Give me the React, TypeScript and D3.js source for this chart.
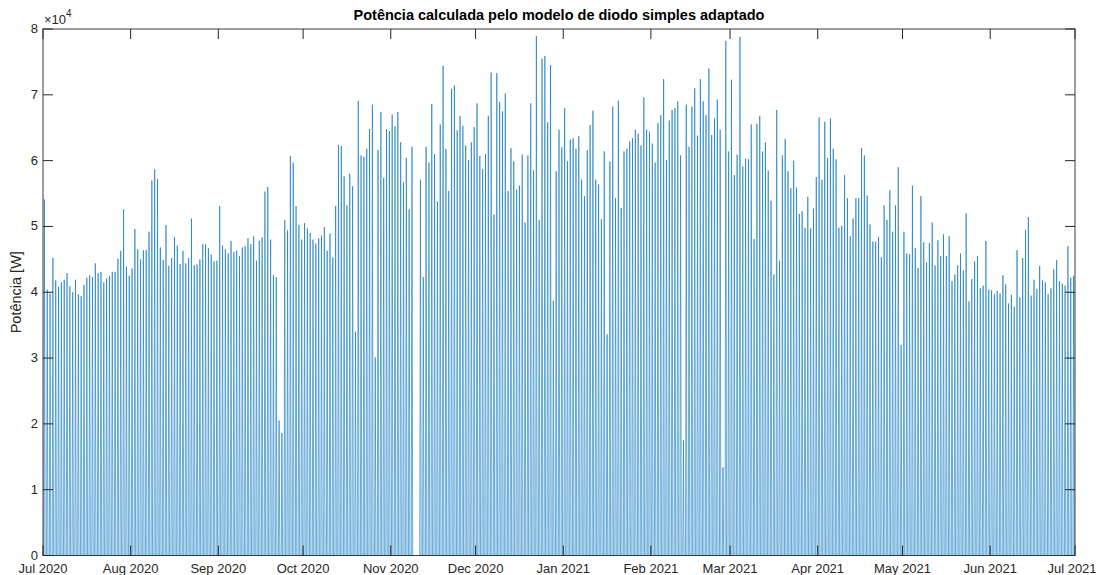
import React from "react";
import * as d3 from "d3";

// Daily peak power, in units of 10^4 W
const jul2020 = [5.41, 4.04, 3.98, 4.52, 4.18, 4.08, 4.15, 4.19, 4.29, 4.09, 4.0, 4.19, 3.97, 3.94, 4.11, 4.22, 4.26, 4.23, 4.44, 4.29, 4.31, 4.15, 4.21, 4.25, 4.31, 4.31, 4.51, 4.63, 5.26, 4.39, 4.25];
const aug2020 = [4.36, 4.96, 4.65, 4.5, 4.64, 4.64, 4.92, 5.7, 5.87, 5.72, 4.68, 4.49, 5.02, 4.4, 4.52, 4.84, 4.71, 4.43, 4.63, 4.44, 4.52, 5.12, 4.41, 4.42, 4.5, 4.73, 4.73, 4.67, 4.57, 4.47, 4.48];
const sep2020 = [5.31, 4.71, 4.65, 4.59, 4.78, 4.61, 4.63, 4.55, 4.68, 4.7, 4.82, 4.73, 4.85, 4.48, 4.78, 4.83, 5.53, 5.6, 4.8, 4.26, 4.23, 2.05, 1.86, 5.1, 4.94, 6.07, 5.97, 5.31, 5.02, 4.8];
const oct2020 = [5.05, 4.97, 4.9, 4.8, 4.74, 4.82, 4.86, 4.99, 4.63, 4.89, 4.53, 5.31, 6.24, 6.22, 5.76, 5.32, 5.8, 5.61, 3.4, 6.91, 6.08, 6.06, 6.18, 6.48, 6.85, 3.01, 6.16, 6.74, 5.74, 6.48, 6.45];
const nov2020 = [6.7, 6.52, 6.74, 6.28, 5.67, 6.04, 5.26, 6.21, null, null, 5.71, 4.23, 6.21, 5.97, 6.86, 6.1, 5.38, 6.55, 7.44, 6.18, 5.54, 7.09, 7.14, 6.46, 6.68, 6.53, 6.23, 6.01, 6.28, 6.51];
const dec2020 = [6.87, 6.07, 5.87, 6.1, 6.68, 7.34, 5.18, 7.33, 6.89, 6.75, 7.02, 5.54, 6.19, 5.99, 5.56, 5.62, 6.09, 5.06, 6.08, 6.87, 5.85, 7.89, 5.1, 7.55, 7.59, 6.58, 7.45, 3.87, 5.84, 6.47, 6.2];
const jan2021 = [6.8, 5.99, 6.32, 6.34, 6.18, 6.37, 5.71, 5.46, 6.16, 6.54, 6.76, 5.71, 5.64, 5.11, 6.14, 3.36, 5.99, 6.82, 5.43, 6.91, 5.28, 6.14, 6.18, 6.29, 6.34, 6.47, 6.41, 6.23, 6.96, 6.47, 6.44];
const feb2021 = [6.26, 5.97, 6.57, 6.69, 7.24, 6.01, 6.61, 6.77, 6.8, 6.9, 6.08, 1.75, 6.85, 6.21, 6.82, 7.1, 6.38, 7.24, 6.9, 6.69, 7.4, 6.39, 6.64, 6.93, 6.47, 1.34, 7.82, 6.14];
const mar2021 = [7.23, 5.78, 6.09, 7.88, 5.91, 6.03, 6.02, 6.55, 4.81, 6.56, 6.68, 6.14, 6.28, 5.85, 5.39, 4.27, 6.77, 4.48, 6.08, 6.33, 5.84, 5.58, 6.0, 5.59, 5.19, 5.23, 4.98, 5.45, 4.97, 5.27, 5.75];
const apr2021 = [6.66, 5.71, 6.59, 6.04, 6.64, 6.18, 6.02, 4.98, 5.01, 5.78, 5.43, 4.85, 5.12, 5.43, 5.43, 6.19, 6.08, 5.47, 5.03, 4.77, 4.77, 4.84, 4.53, 5.32, 5.1, 5.55, 4.92, 5.32, 5.9, 3.2];
const may2021 = [4.92, 4.59, 4.58, 5.62, 4.67, 4.37, 5.46, 4.76, 4.45, 4.75, 5.06, 4.41, 4.79, 4.55, 4.88, 4.55, 4.85, 4.17, 4.27, 4.41, 4.59, 4.33, 5.2, 3.86, 4.2, 4.47, 4.55, 4.06, 4.1, 4.78, 4.04];
const jun2021 = [4.03, 3.97, 4.02, 3.98, 4.26, 4.12, 3.83, 3.96, 3.78, 4.64, 3.92, 4.52, 4.95, 5.14, 3.95, 4.19, 4.05, 4.4, 4.18, 4.15, 3.97, 4.06, 4.35, 4.49, 4.17, 4.13, 4.1, 4.7, 4.22, 4.25];

const dailyPeaks10k: (number | null)[] = [
  ...jul2020, ...aug2020, ...sep2020, ...oct2020, ...nov2020, ...dec2020,
  ...jan2021, ...feb2021, ...mar2021, ...apr2021, ...may2021, ...jun2021,
];

const startDate = new Date(Date.UTC(2020, 6, 1));
const endDate = new Date(Date.UTC(2021, 6, 1));
const yTicks = [0, 1, 2, 3, 4, 5, 6, 7, 8];
const sunriseHour = 6;
const noonHour = 12;
const sunsetHour = 18;

const W = 1104;
const H = 575;
const margin = { left: 43, right: 29, top: 29, bottom: 19.5 };
const textColor = "#262626";
const axisColor = "#262626";
const lineColor = "#0072BD";
const font = "'Liberation Sans', Arial, Helvetica, sans-serif";

export default function App() {
  const x = d3
    .scaleUtc()
    .domain([startDate, endDate])
    .range([margin.left, W - margin.right]);
  const y = d3
    .scaleLinear()
    .domain([0, 80000])
    .range([H - margin.bottom, margin.top]);

  const hour = (dayIndex: number, h: number) =>
    new Date(startDate.getTime() + (dayIndex * 24 + h) * 3600 * 1000);

  const line = d3
    .line<[Date, number]>()
    .x((d) => x(d[0]))
    .y((d) => y(d[1]));

  const paths: string[] = [];
  dailyPeaks10k.forEach((p, i) => {
    if (p === null) return;
    const pts: [Date, number][] = [
      [hour(i, sunriseHour), 0],
      [hour(i, noonHour), p * 10000],
      [hour(i, sunsetHour), 0],
    ];
    paths.push(line(pts) as string);
  });

  const xTicks = d3.utcMonth.range(startDate, d3.utcMonth.offset(endDate, 1));
  const fmt = d3.utcFormat("%b %Y");
  const x0 = margin.left;
  const x1 = W - margin.right;
  const y0 = H - margin.bottom;
  const y1 = margin.top;
  const tickLen = 10;

  return (
    <svg
      width={W}
      height={H}
      style={{ position: "absolute", left: 0, top: 0, background: "#fff" }}
      fontFamily={font}
    >
      <rect x={0} y={0} width={W} height={H} fill="#fff" />
      <defs>
        <clipPath id="plotclip">
          <rect x={x0} y={y1} width={x1 - x0} height={y0 - y1} />
        </clipPath>
      </defs>
      <g clipPath="url(#plotclip)">
        {paths.map((d, i) => (
          <path key={i} d={d} fill="none" stroke={lineColor} strokeWidth={0.6} />
        ))}
      </g>
      {/* box */}
      <rect
        x={x0}
        y={y1}
        width={x1 - x0}
        height={y0 - y1}
        fill="none"
        stroke={axisColor}
        strokeWidth={1}
        opacity={0.9}
      />
      {/* x ticks */}
      {xTicks.map((t, i) => {
        const xp = x(t);
        const labelX = Math.max(xp, 33);
        return (
          <g key={i}>
            <line x1={xp} x2={xp} y1={y0} y2={y0 - tickLen} stroke={axisColor} />
            <line x1={xp} x2={xp} y1={y1} y2={y1 + tickLen} stroke={axisColor} />
            <text
              x={Math.min(labelX, 1072)}
              y={572.5}
              textAnchor="middle"
              fontSize={13}
              fill={textColor}
            >
              {fmt(t)}
            </text>
          </g>
        );
      })}
      {/* y ticks */}
      {yTicks.map((v) => {
        const yp = y(v * 10000);
        return (
          <g key={v}>
            <line x1={x0} x2={x0 + tickLen} y1={yp} y2={yp} stroke={axisColor} />
            <line x1={x1} x2={x1 - tickLen} y1={yp} y2={yp} stroke={axisColor} />
            <text
              x={x0 - 5}
              y={yp + 4}
              textAnchor="end"
              fontSize={13}
              fill={textColor}
            >
              {v}
            </text>
          </g>
        );
      })}
      {/* exponent */}
      <text x={44} y={24} fontSize={13} fill={textColor}>
        ×10
        <tspan dy={-7} fontSize={10}>
          4
        </tspan>
      </text>
      {/* y label */}
      <text
        transform={`translate(21, ${(y0 + y1) / 2}) rotate(-90)`}
        textAnchor="middle"
        fontSize={14.5}
        fill={textColor}
      >
        Potência [W]
      </text>
      {/* title */}
      <text
        x={(x0 + x1) / 2}
        y={20}
        textAnchor="middle"
        fontSize={14.5}
        fontWeight="bold"
        fill="#000"
      >
        Potência calculada pelo modelo de diodo simples adaptado
      </text>
    </svg>
  );
}
